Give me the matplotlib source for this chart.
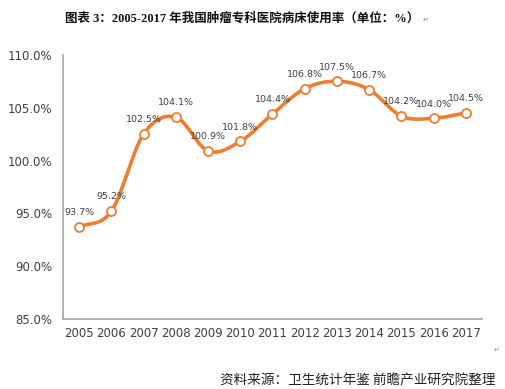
import matplotlib.pyplot as plt
import numpy as np

years = ["2005", "2006", "2007", "2008", "2009", "2010", "2011", "2012", "2013", "2014", "2015", "2016", "2017"]
usage_rate = [93.7, 95.2, 102.5, 104.1, 100.9, 101.8, 104.4, 106.8, 107.5, 106.7, 104.2, 104.0, 104.5]
y_ticks = [85, 90, 95, 100, 105, 110]

cjk = ['Noto Sans CJK SC', 'DejaVu Sans']
orange = '#ED7D31'


def smooth(x, y, n=30):
    # catmull-rom style curve through the points, like Excel's smoothed line
    x = np.asarray(x, float)
    y = np.asarray(y, float)
    px = np.concatenate([[2 * x[0] - x[1]], x, [2 * x[-1] - x[-2]]])
    py = np.concatenate([[2 * y[0] - y[1]], y, [2 * y[-1] - y[-2]]])
    xs, ys = [], []
    t = np.linspace(0, 1, n)
    for i in range(1, len(px) - 2):
        for arr, out in ((px, xs), (py, ys)):
            p0, p1, p2, p3 = arr[i - 1:i + 3]
            c1 = p1 + (p2 - p0) / 6
            c2 = p2 - (p3 - p1) / 6
            out.extend((1 - t) ** 3 * p1 + 3 * (1 - t) ** 2 * t * c1 + 3 * (1 - t) * t ** 2 * c2 + t ** 3 * p2)
    return np.array(xs), np.array(ys)


fig = plt.figure(figsize=(5.06, 3.89), dpi=100)
ax = fig.add_axes([0.1245, 0.18, 0.828, 0.679])

x = np.arange(len(years))
sx, sy = smooth(x, usage_rate)
ax.plot(sx, sy, color=orange, linewidth=2.6, solid_capstyle='round', zorder=2)
ax.plot(x, usage_rate, linestyle='none', marker='o', markersize=6.5,
        markerfacecolor='white', markeredgecolor=orange, markeredgewidth=1.3, zorder=3)

for xi, v in zip(x, usage_rate):
    ax.annotate(f"{v:.1f}%", (xi, v), xytext=(0, 7), textcoords='offset points',
                ha='center', va='bottom', fontsize=6.8, color='#404040')

ax.set_xlim(-0.5, len(years) - 0.5)
ax.set_ylim(85, 110)
ax.set_xticks(x)
ax.set_xticklabels(years)
ax.set_yticks(y_ticks)
ax.set_yticklabels([f"{t:.1f}%" for t in y_ticks])
ax.tick_params(length=0, labelsize=8.5, colors='#404040', pad=6)
ax.tick_params(axis='y', pad=8)
for s in ['top', 'right']:
    ax.spines[s].set_visible(False)
for s in ['left', 'bottom']:
    ax.spines[s].set_color('#A6A6A6')
    ax.spines[s].set_linewidth(1.2)

fig.text(0.128, 0.953, "图表 3：2005-2017 年我国肿瘤专科医院病床使用率（单位：%）",
         fontsize=9, fontweight='bold', family=['Liberation Serif', 'Noto Sans CJK SC'],
         ha='left', va='center', color='#111111')
fig.text(0.835, 0.95, "↵", fontsize=5, color='#888888', ha='left', va='center')
fig.text(0.435, 0.022, "资料来源：卫生统计年鉴 前瞻产业研究院整理",
         fontsize=9.8, family=cjk, style='italic', ha='left', va='center', color='#222222')
fig.text(0.975, 0.10, "↵", fontsize=5, color='#888888', ha='left', va='center')

fig.savefig("out.png", dpi=100)
